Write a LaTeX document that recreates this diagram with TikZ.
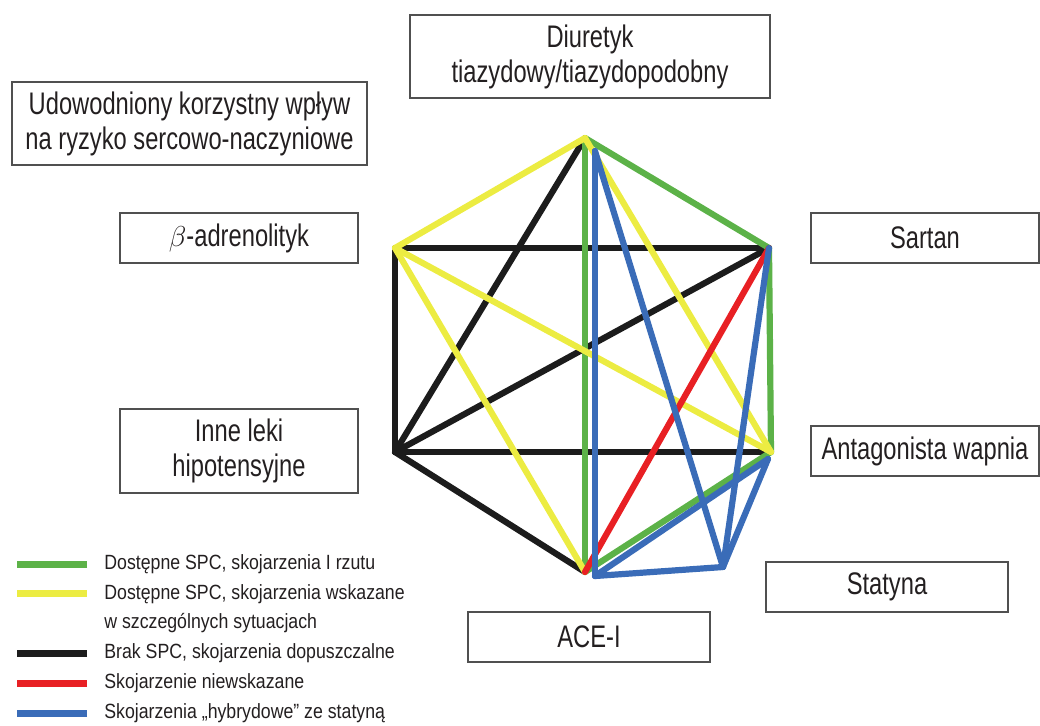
\documentclass[tikz,border=0pt]{standalone}
\usepackage{fontspec}
\setmainfont[FakeStretch=0.76]{Liberation Sans}
\newfontfamily\legfont[FakeStretch=0.86]{Liberation Sans}
\usepackage{tikz}
\usepackage{xcolor}
\definecolor{spcgreen}{RGB}{92,178,72}
\definecolor{spcyellow}{RGB}{236,236,66}
\definecolor{spcblack}{RGB}{28,28,28}
\definecolor{spcred}{RGB}{232,32,36}
\definecolor{spcblue}{RGB}{58,108,184}
\definecolor{boxgray}{RGB}{80,80,80}
\definecolor{txtgray}{RGB}{35,31,32}
\tikzset{
	lek/.style      = {shape=rectangle, draw=boxgray, line width=0.8pt,
		align=center, inner sep=0pt, text=txtgray,
		font=\fontsize{15.6}{17.5}\selectfont},
	lekmaly/.style  = {lek, minimum width=119pt, minimum height=25pt},
	legtext/.style  = {anchor=west, align=left, inner sep=0pt, text=txtgray,
		font=\legfont\fontsize{10.3}{14.8}\selectfont},
	polaczenie/.style = {line width=3.1pt, line cap=round}
}

\begin{document}
\begin{tikzpicture}
[
x = 0.5pt, y = -0.5pt,
every node/.style = {font=\fontsize{15.6}{17.5}\selectfont}
]
\tikzstyle{zielona}=[polaczenie, spcgreen]
\tikzstyle{zolta}=[polaczenie, spcyellow]
\tikzstyle{czarna}=[polaczenie, spcblack]
\tikzstyle{czerwona}=[polaczenie, spcred]
\tikzstyle{niebieska}=[polaczenie, spcblue]
\useasboundingbox (0,0) rectangle (1040,725);

% pola z nazwami lekow
\node [lek, minimum width=180pt, minimum height=41.5pt] (diur) at (590,56.5)
	{Diuretyk\\tiazydowy/tiazydopodobny};
\node [lek, minimum width=177.5pt, minimum height=41.5pt] (udow) at (189.5,123.5)
	{Udowodniony korzystny wpływ\\na ryzyko sercowo-naczyniowe};
\node [lekmaly] (beta) at (239,238) {$\beta$-adrenolityk};
\node [lek, minimum width=114pt, minimum height=25pt] (sart) at (925,238) {Sartan};
\node [lek, minimum width=119pt, minimum height=42pt] (inne) at (239,451)
	{Inne leki\\hipotensyjne};
\node [lek, minimum width=114pt, minimum height=25pt] (anta) at (925,451) {Antagonista wapnia};
\node [lek, minimum width=121pt, minimum height=25pt] (stat) at (887,587) {Statyna};
\node [lek, minimum width=121pt, minimum height=25pt] (ace) at (589,637) {ACE-I};

% wierzcholki szesciokata
\coordinate (dv)  at (585,138);
\coordinate (bv)  at (395,248);
\coordinate (sv)  at (769,248);
\coordinate (iv)  at (395,452);
\coordinate (cv)  at (771,452);
\coordinate (av)  at (585,572);
\coordinate (stv) at (723,567);
\coordinate (dvb) at (595,151);
\coordinate (avb) at (595,576);
\coordinate (cvb) at (768,459);

% polaczenia
\draw [czarna] (dv) -- (iv);
\draw [czarna] (bv) -- (sv);
\draw [czarna] (bv) -- (iv);
\draw [czarna] (iv) -- (sv);
\draw [czarna] (iv) -- (cv);
\draw [czarna] (iv) -- (av);
\draw [zielona] (dv) -- (sv);
\draw [zielona] (dv) -- (av);
\draw [zielona] (sv) -- (cv);
\draw [zielona] (cv) -- (av);
\draw [zolta] (dv) -- (bv);
\draw [zolta] (dv) -- (cv);
\draw [zolta] (bv) -- (cv);
\draw [zolta] (bv) -- (av);
\draw [czerwona] (sv) -- (av);
\draw [niebieska] (dvb) -- (avb);
\draw [niebieska] (dvb) -- (stv);
\draw [niebieska] (sv) -- (stv);
\draw [niebieska] (cvb) -- (stv);
\draw [niebieska] (cvb) -- (avb);
\draw [niebieska] (avb) -- (stv);

% legenda
\node [legtext] (lg1) at (104,564) {Dostępne SPC, skojarzenia I rzutu};
\node [legtext] (lg2) at (104,608.5) {Dostępne SPC, skojarzenia wskazane\\w szczególnych sytuacjach};
\node [legtext] (lg3) at (104,653) {Brak SPC, skojarzenia dopuszczalne};
\node [legtext] (lg4) at (104,683) {Skojarzenie niewskazane};
\node [legtext] (lg5) at (104,713) {Skojarzenia „hybrydowe” ze statyną};
\draw [spcgreen, line width=3.5pt] ([xshift=-8.5pt]lg1.west) -- ++(-35pt,0);
\draw [spcyellow, line width=3.5pt] ([xshift=-8.5pt,yshift=7.4pt]lg2.west) -- ++(-35pt,0);
\draw [spcblack, line width=3.5pt] ([xshift=-8.5pt]lg3.west) -- ++(-35pt,0);
\draw [spcred, line width=3.5pt] ([xshift=-8.5pt]lg4.west) -- ++(-35pt,0);
\draw [spcblue, line width=3.5pt] ([xshift=-8.5pt]lg5.west) -- ++(-35pt,0);
\end{tikzpicture}
\end{document}
